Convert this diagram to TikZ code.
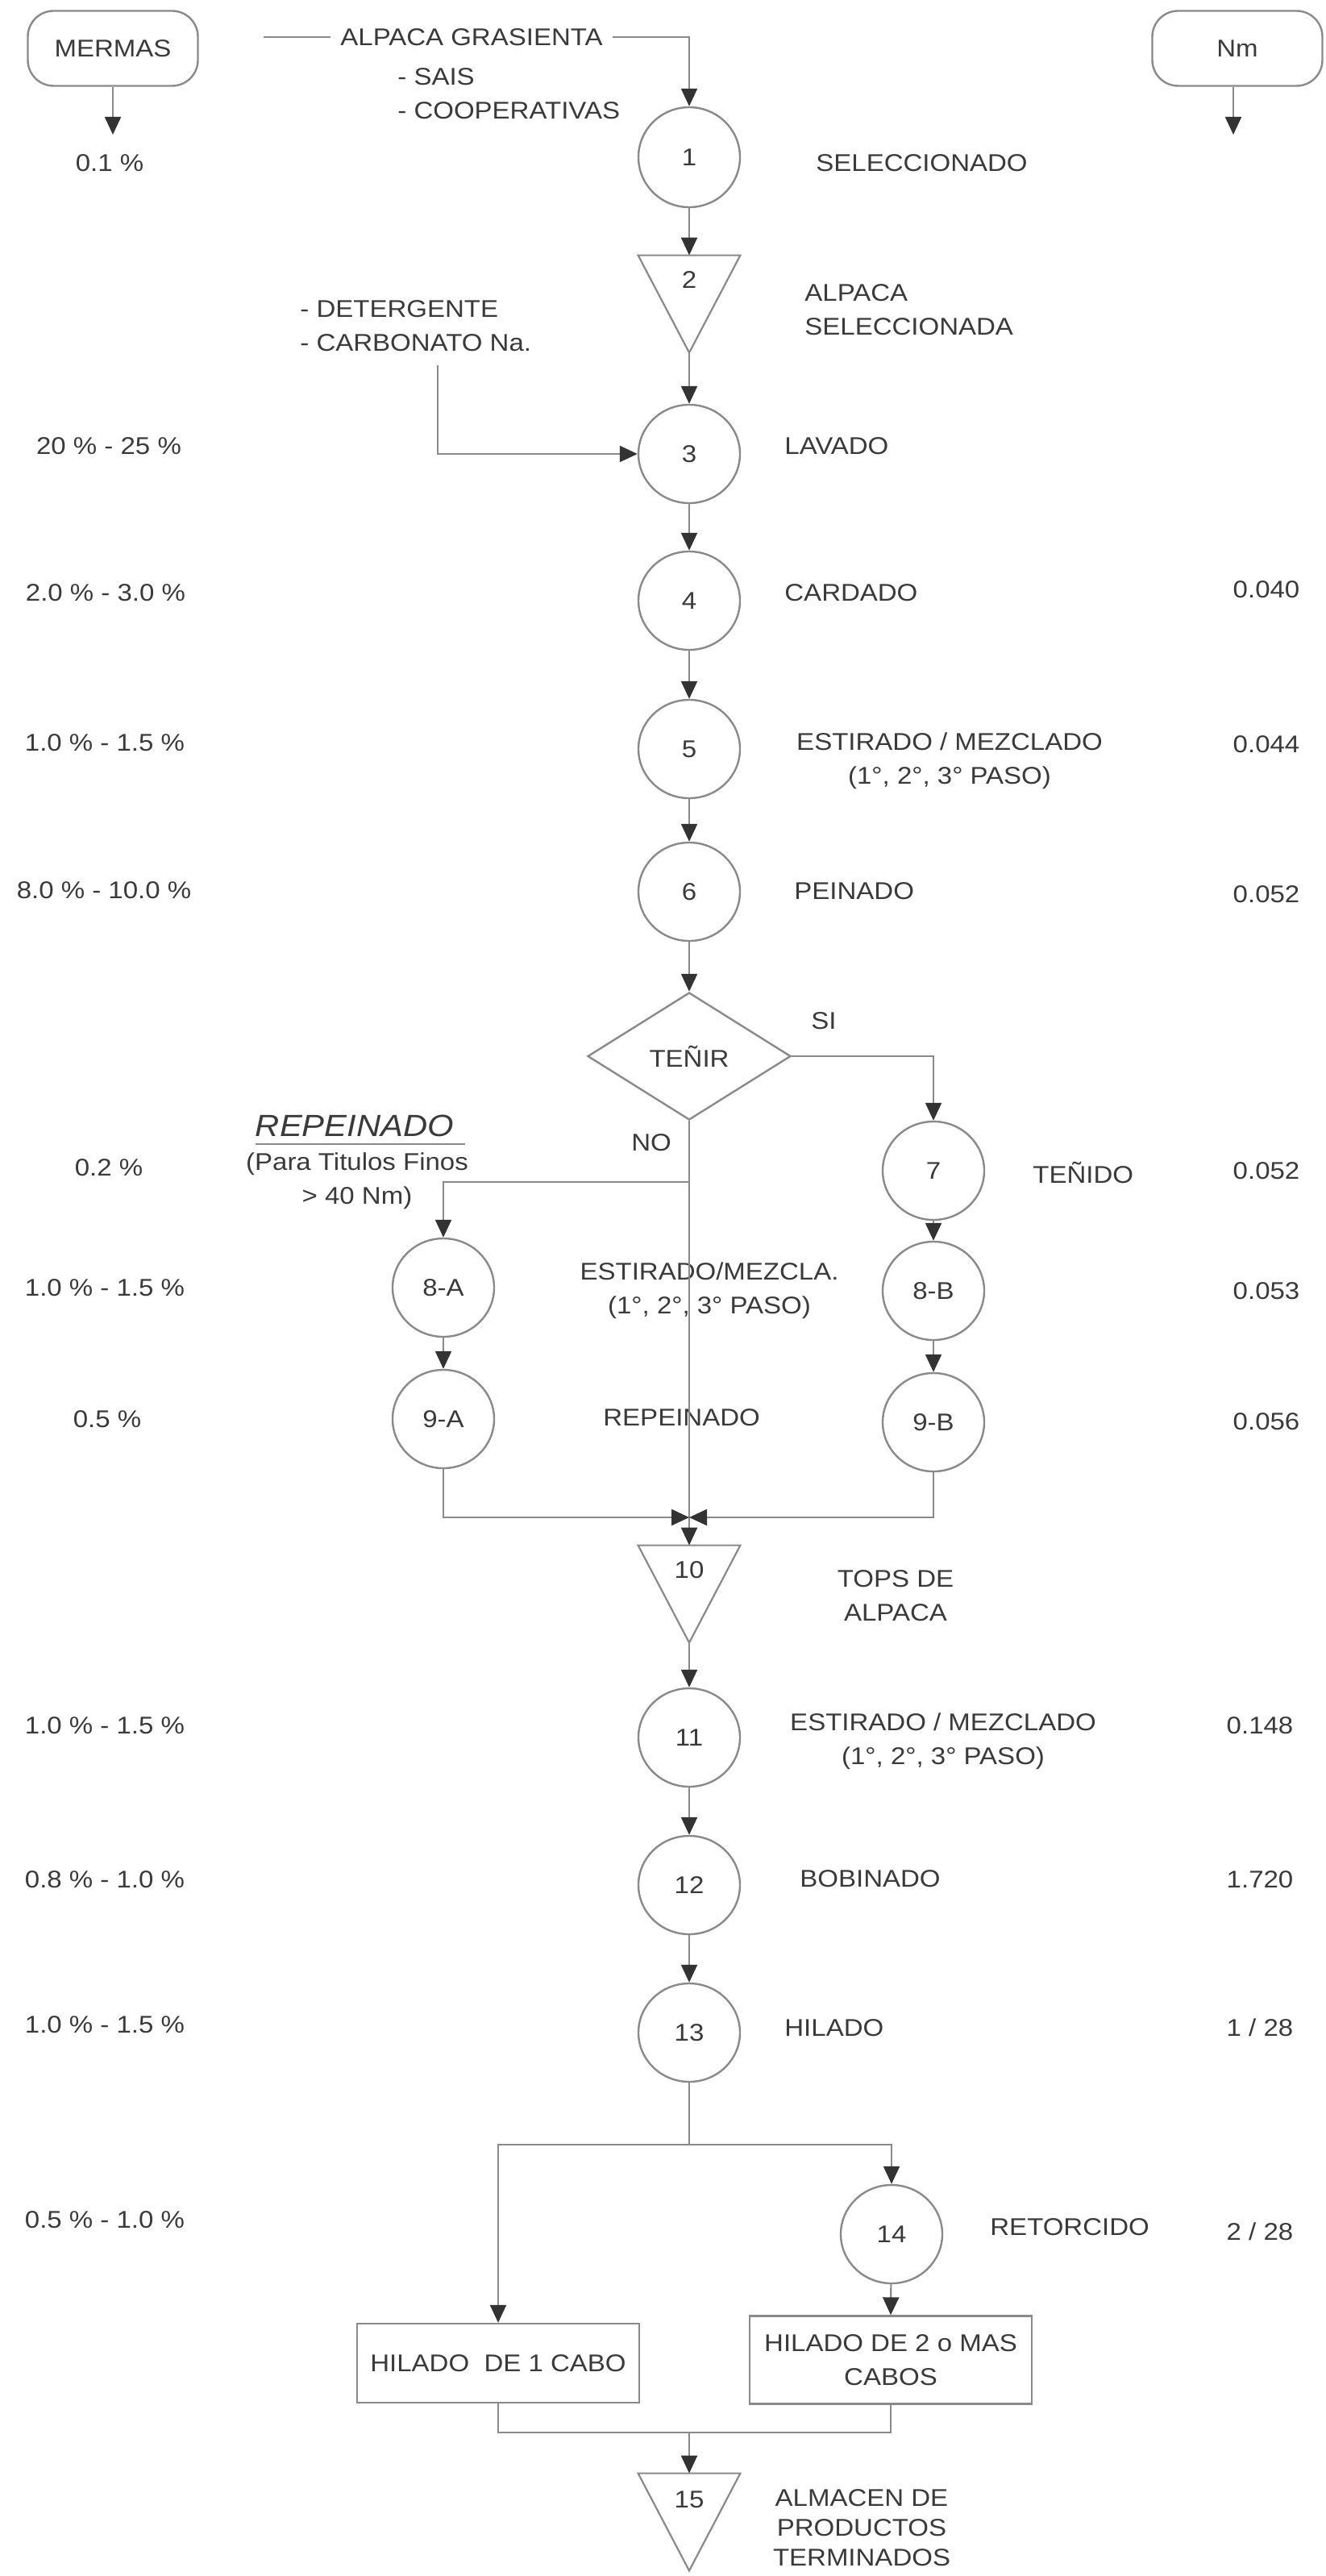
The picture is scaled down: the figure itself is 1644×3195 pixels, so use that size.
\documentclass[tikz,border=0pt]{standalone}
\usepackage{fontspec}
\setmainfont{Liberation Sans}[FakeStretch=1.1]
\usetikzlibrary{arrows.meta,shapes.geometric,calc}
\definecolor{txt}{HTML}{3A3A3A}
\definecolor{ln}{HTML}{8A8A8A}
\definecolor{tipc}{HTML}{333333}
\begin{document}
\begin{tikzpicture}[x=0.5pt,y=-0.5pt,
  font=\fontsize{15}{21}\selectfont, text=txt,
  every node/.style={inner sep=0pt},
  proc/.style={ellipse, draw=ln, line width=1.2pt, minimum width=63pt, minimum height=61pt},
  tribox/.style={rectangle, minimum width=63pt, minimum height=60pt},
  topbox/.style={rectangle, rounded corners=16pt, draw=ln, line width=1.2pt, minimum width=105.5pt, minimum height=46.5pt},
  dbox/.style={rectangle, draw=ln, line width=1.2pt, minimum width=175pt},
  line/.style={draw=ln, line width=1.1pt},
  arr/.style={line, -{Triangle[length=11pt,width=10pt,color=tipc]}},
  lbl/.style={anchor=west},
  ]
\fill[white] (0,0) rectangle (1644,3195);
\useasboundingbox (0,0) rectangle (1644,3195);

% header boxes
\node[topbox] (mermas) at (140,60) {MERMAS};
\node[topbox] (nm) at (1535,60) {Nm};
\coordinate (mermasEnd) at (140,167);
\coordinate (nmEnd) at (1530,167);
\draw[arr] (mermas.south) -- (mermasEnd);
\draw[arr] (nm.south -| nmEnd) -- (nmEnd);
\node (m1) at (136,202) {0.1 \%};

% raw material
\node[inner xsep=6pt] (ag) at (585,46) {ALPACA GRASIENTA};
\coordinate (ag0) at (327,46);
\node[proc, minimum height=62pt] (c1) at (855,195) {1};
\draw[line] (ag0) -- (ag.west);
\draw[arr] (ag.east) -| (c1.north);
\node[anchor=west, align=left] (src) at (493,116) {- SAIS\\- COOPERATIVAS};
\node[lbl] (l1) at (1012,202) {SELECCIONADO};

% 2
\node[tribox] (t2) at (855,377) {};
\draw[line] (t2.north west) -- (t2.north east) -- (t2.south) -- cycle;
\node (t2n) at (855,347) {2};
\draw[arr] (c1) -- (t2.north);
\node[anchor=west, align=left] (l2) at (998,384) {ALPACA\\SELECCIONADA};

% 3
\node[anchor=west, align=left] (chem) at (372,404) {- DETERGENTE\\- CARBONATO Na.};
\coordinate (detTop) at (543,453);
\node[proc] (c3) at (855,563) {3};
\draw[arr] (t2.south) -- (c3);
\draw[arr] (detTop) |- (c3.west);
\node[lbl] (l3) at (973,553) {LAVADO};
\node (m3) at (135,553) {20 \% - 25 \%};

% 4
\node[proc] (c4) at (855,745) {4};
\draw[arr] (c3) -- (c4);
\node[lbl] (l4) at (973,735) {CARDADO};
\node (n4) at (1571,731) {0.040};
\node (m4) at (131,735) {2.0 \% - 3.0 \%};

% 5
\node[proc] (c5) at (855,929) {5};
\draw[arr] (c4) -- (c5);
\node[align=center] (l5) at (1178,944) {ESTIRADO / MEZCLADO\\(1°, 2°, 3° PASO)};
\node (n5) at (1571,923) {0.044};
\node (m5) at (130,921) {1.0 \% - 1.5 \%};

% 6
\node[proc] (c6) at (855,1106) {6};
\draw[arr] (c5) -- (c6);
\node[lbl] (l6) at (985,1105) {PEINADO};
\node (n6) at (1571,1109) {0.052};
\node (m6) at (129,1104) {8.0 \% - 10.0 \%};

% decision
\node[diamond, draw=ln, line width=1.2pt, minimum width=126pt, minimum height=79pt, aspect=1.6] (d) at (855,1310) {TEÑIR};
\draw[arr] (c6) -- (d.north);
\node[lbl] (si) at (1006,1266) {SI};
\node[lbl] (no) at (783,1417) {NO};

% right branch
\node[proc] (c7) at (1158,1452) {7};
\draw[arr] (d.east) -| (c7.north);
\node[lbl] (l7) at (1281,1454) {TEÑIDO};
\node (n7) at (1571,1452) {0.052};
\node (m7) at (135,1448) {0.2 \%};
\node[proc] (c8B) at (1158,1601) {8-B};
\node[proc] (c9B) at (1158,1764) {9-B};
\draw[arr] (c7) -- (c8B);
\draw[arr] (c8B) -- (c9B);

% left branch
\node (rp) at (440,1396) {\fontsize{19}{23}\selectfont\itshape REPEINADO};
\draw[line] (317,1419) -- (577,1419);
\node[align=center] (rpn) at (443,1465) {(Para Titulos Finos\\> 40 Nm)};
\coordinate (noJ) at (855,1466);
\node[proc] (c8A) at (550,1597) {8-A};
\node[proc] (c9A) at (550,1760) {9-A};
\draw[arr] (noJ) -| (c8A.north);
\draw[arr] (c8A) -- (c9A);
\node[align=center] (l8) at (880,1601) {ESTIRADO/MEZCLA.\\(1°, 2°, 3° PASO)};
\node (n8) at (1571,1601) {0.053};
\node (m8) at (130,1597) {1.0 \% - 1.5 \%};
\node[lbl] (l9) at (748,1758) {REPEINADO};
\node (n9) at (1571,1763) {0.056};
\node (m9) at (133,1760) {0.5 \%};

% merge and 10
\node[tribox] (t10) at (855,1977) {};
\draw[line] (t10.north west) -- (t10.north east) -- (t10.south) -- cycle;
\node (t10n) at (855,1947) {10};
\coordinate (mg) at (855,1882);
\draw[arr] (d.south) -- (t10.north);
\draw[arr] (c9A.south) |- (mg);
\draw[arr] (c9B.south) |- (mg);
\node[align=center] (l10) at (1111,1979) {TOPS DE\\ALPACA};

% 11-13
\node[proc] (c11) at (855,2155) {11};
\draw[arr] (t10.south) -- (c11);
\node[align=center] (l11) at (1170,2160) {ESTIRADO / MEZCLADO\\(1°, 2°, 3° PASO)};
\node (n11) at (1563,2140) {0.148};
\node (m11) at (130,2140) {1.0 \% - 1.5 \%};
\node[proc] (c12) at (855,2338) {12};
\draw[arr] (c11) -- (c12);
\node[lbl] (l12) at (992,2330) {BOBINADO};
\node (n12) at (1563,2331) {1.720};
\node (m12) at (130,2331) {0.8 \% - 1.0 \%};
\node[proc] (c13) at (855,2521) {13};
\draw[arr] (c12) -- (c13);
\node[lbl] (l13) at (973,2515) {HILADO};
\node (n13) at (1563,2515) {1 / 28};
\node (m13) at (130,2511) {1.0 \% - 1.5 \%};

% split
\coordinate (split) at (855,2660);
\node[proc] (c14) at (1106,2771) {14};
\node[dbox, minimum height=49pt] (b1) at (618,2931) {HILADO~~DE 1 CABO};
\node[dbox, minimum height=54.5pt, align=center] (b2) at (1105,2927) {HILADO DE 2 o MAS\\CABOS};
\draw[line] (c13) -- (split);
\draw[arr] (split) -| (b1.north);
\draw[arr] (split) -| (c14.north);
\draw[arr] (c14) -- (b2.north);
\node[lbl] (l14) at (1228,2762) {RETORCIDO};
\node (n14) at (1563,2768) {2 / 28};
\node (m14) at (130,2753) {0.5 \% - 1.0 \%};

% join and 15
\coordinate (join) at (855,3017);
\node[tribox] (t15) at (855,3128) {};
\draw[line] (t15.north west) -- (t15.north east) -- (t15.south) -- cycle;
\node (t15n) at (855,3100) {15};
\draw[line] (b1.south) |- (join);
\draw[line] (b2.south) |- (join);
\draw[arr] (join) -- (t15.north);
\node[align=center, font=\fontsize{15}{18.5}\selectfont] (l15) at (1069,3135) {ALMACEN DE\\PRODUCTOS\\TERMINADOS};
\end{tikzpicture}
\end{document}
